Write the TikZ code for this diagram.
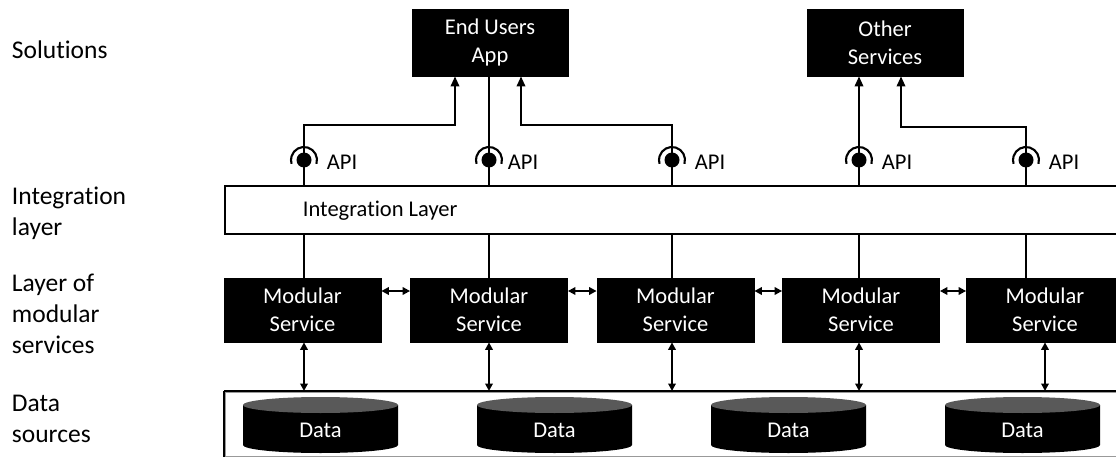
\documentclass[tikz,border=0pt]{standalone}
\usepackage{fontspec}
\setmainfont{Carlito}[Ligatures=NoCommon]
\usetikzlibrary{arrows.meta}
\newcommand\lblfont{\fontsize{25.5}{31}\selectfont}
\newcommand\boxfont{\fontsize{22.5}{28}\selectfont}
\begin{document}
\begin{tikzpicture}[x=1pt,y=-1pt,line width=1.9pt,
  blk/.style={fill=black,draw=black,line width=0.8pt,text=white,align=center,font=\boxfont,inner sep=0pt,minimum height=64pt,minimum width=157pt},
  lbl/.style={font=\lblfont,align=left,anchor=west,inner sep=0pt},
  lblone/.style={font=\lblfont,anchor=base west,inner sep=0pt},
  apitxt/.style={font=\boxfont,anchor=base west,inner sep=0pt},
  datatxt/.style={font=\boxfont,text=white,anchor=base,inner sep=0pt},
  uparr/.style={-{Triangle[length=10pt,width=8.5pt]}},
  dblarr/.style={{Triangle[length=7.5pt,width=7.5pt]}-{Triangle[length=7.5pt,width=7.5pt]}},
  layerbox/.style={draw=black,fill=white,inner sep=0pt,anchor=north west,minimum width=901pt},
  cylend/.style={fill=black!65},
  ]
\useasboundingbox[fill=white] (0,0) rectangle (1116,457);
\clip (0,0) rectangle (1116,457);

% left labels
\node[lblone] (lsol) at (11,59) {Solutions};
\node[lbl] (lint) at (11,213) {Integration\\layer};
\node[lbl] (lmod) at (11,314) {Layer of\\modular\\services};
\node[lbl] (ldat) at (11,419) {Data\\sources};

% top boxes
\node[blk,minimum width=156pt,minimum height=67pt] (eua) at (490,42.5) {End Users\\App};
\node[blk,minimum width=156pt,minimum height=67pt] (os) at (885,42.5) {Other\\Services};

% integration layer
\node[layerbox,minimum height=48pt] (il) at (224,185) {};
\node[apitxt] (iltxt) at (302,217) {Integration Layer};

% data sources box
\node[layerbox,minimum height=65pt,draw=black!40] (ds) at (224,391) {};
\draw (224,391) -- (1120,391);
\draw (224,391) -- (224,457);

% API points
\coordinate (a1) at (304,160);
\coordinate (a2) at (489,160);
\coordinate (a3) at (672,160);
\coordinate (a4) at (859,160);
\coordinate (a5) at (1026,160);

% connectors from APIs to solutions
\coordinate (e1) at (455,125);
\coordinate (e3) at (521,125);
\coordinate (e5) at (901,127);
\draw[uparr] (a1) |- (e1) -- (e1 |- eua.south);
\draw (a2) -- (a2 |- eua.south);
\draw[uparr] (a3) |- (e3) -- (e3 |- eua.south);
\draw[uparr] (a4) -- (a4 |- os.south);
\draw[uparr] (a5) |- (e5) -- (e5 |- os.south);

% API symbols
\foreach \i in {1,...,5}{
  \draw (a\i) -- (a\i |- il.north);
  \fill (a\i) circle[radius=7.5pt];
  \draw[line width=2.1pt] (a\i) ++(-17:13pt) arc[start angle=-17,end angle=197,radius=13pt];
}
\node[apitxt] (t1) at (326,170) {API};
\node[apitxt] (t2) at (507,170) {API};
\node[apitxt] (t3) at (694,170) {API};
\node[apitxt] (t4) at (881,170) {API};
\node[apitxt] (t5) at (1048,170) {API};

% modular services
\node[blk] (ms1) at (302.5,310) {Modular\\Service};
\node[blk] (ms2) at (489,310) {Modular\\Service};
\node[blk] (ms3) at (675.5,310) {Modular\\Service};
\node[blk] (ms4) at (861,310) {Modular\\Service};
\node[blk] (ms5) at (1045,310) {Modular\\Service};

% integration layer to modular services
\foreach \i in {1,...,5}{
  \draw (a\i |- il.south) -- (a\i |- ms\i.north);
}

% horizontal links between services
\foreach \i/\j in {1/2,2/3,3/4,4/5}{
  \draw[dblarr] ([yshift=19pt]ms\i.east) -- ([yshift=19pt]ms\j.west);
}

% services to data sources
\draw[dblarr] (a1 |- ms1.south) -- (a1 |- ds.north);
\draw[dblarr] (a2 |- ms2.south) -- (a2 |- ds.north);
\draw[dblarr] (a3 |- ms3.south) -- (a3 |- ds.north);
\draw[dblarr] (a4 |- ms4.south) -- (a4 |- ds.north);
\draw[dblarr] (ms5.south) -- (ms5.south |- ds.north);

% data cylinders
\foreach \i/\cx in {1/320.5,2/554.5,3/788.5,4/1022.5}{
  \fill (\cx-77.5,405) -- (\cx-77.5,445) arc[start angle=180,end angle=360,x radius=77.5pt,y radius=8pt] -- (\cx+77.5,405) -- cycle;
  \fill[cylend] (\cx,405) ellipse[x radius=77.5pt,y radius=8pt];
  \node[datatxt] (d\i) at (\cx,437) {Data};
}
\end{tikzpicture}
\end{document}
